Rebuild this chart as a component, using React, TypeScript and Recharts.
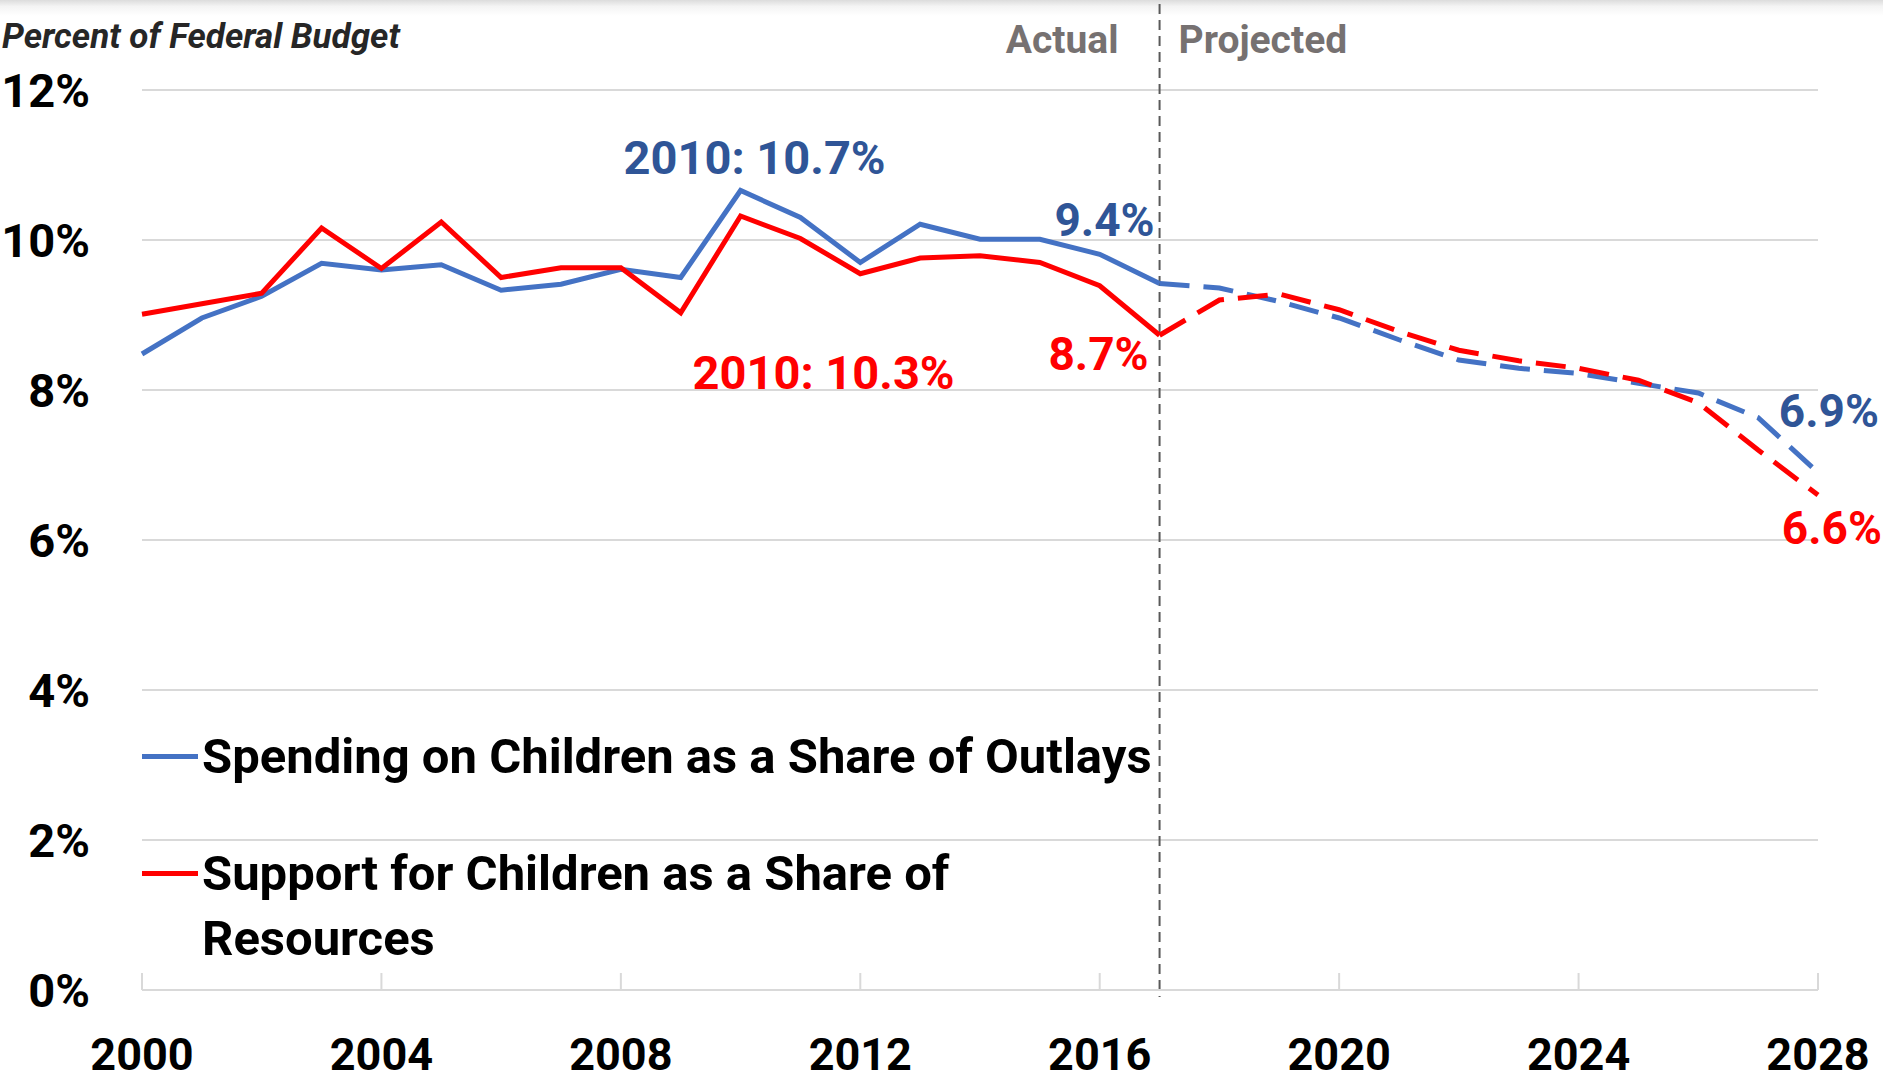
import React from "react";
import {
  LineChart,
  Line,
  XAxis,
  YAxis,
  CartesianGrid,
  ReferenceLine,
  Legend,
} from "recharts";

const years = [
  2000, 2001, 2002, 2003, 2004, 2005, 2006, 2007, 2008, 2009, 2010, 2011, 2012, 2013, 2014,
  2015, 2016, 2017, 2018, 2019, 2020, 2021, 2022, 2023, 2024, 2025, 2026, 2027, 2028,
];
const xTicks = [2000, 2004, 2008, 2012, 2016, 2020, 2024, 2028];
const yTicks = [0, 2, 4, 6, 8, 10, 12];
const splitYear = 2017;

// 2000-2017
const outlaysActual = [
  8.48, 8.96, 9.25, 9.69, 9.6, 9.67, 9.33, 9.41, 9.61, 9.5, 10.66, 10.3, 9.7, 10.21, 10.01,
  10.01, 9.81, 9.42,
];
const resourcesActual = [
  9.01, 9.15, 9.29, 10.16, 9.62, 10.24, 9.5, 9.63, 9.63, 9.03, 10.32, 10.02, 9.55, 9.76, 9.79,
  9.7, 9.39, 8.73,
];
// 2017-2028
const outlaysProjected = [9.42, 9.36, 9.18, 8.96, 8.67, 8.4, 8.29, 8.22, 8.09, 7.96, 7.63, 6.9];
const resourcesProjected = [8.73, 9.2, 9.28, 9.07, 8.78, 8.53, 8.39, 8.29, 8.13, 7.83, 7.2, 6.6];

const outlaysName = "Spending on Children as a Share of Outlays";
const resourcesName = "Support for Children as a Share of Resources";

const BLUE = "#4472C4";
const BLUE_TEXT = "#2F5597";
const RED = "#FF0000";
const GRID = "#D9D9D9";
const FONT = "Roboto, 'Liberation Sans', Arial, sans-serif";

const splitIndex = years.indexOf(splitYear);
const chartData = years.map((year, i) => ({
  year,
  outlaysActual: i <= splitIndex ? outlaysActual[i] : null,
  outlaysProjected: i >= splitIndex ? outlaysProjected[i - splitIndex] : null,
  resourcesActual: i <= splitIndex ? resourcesActual[i] : null,
  resourcesProjected: i >= splitIndex ? resourcesProjected[i - splitIndex] : null,
}));

type Callout = { dx: number; dy: number; anchor: "start" | "middle" | "end"; withYear?: boolean };

// label offsets from the data point they describe
const outlaysCallouts: Record<number, Callout> = {
  2010: { dx: 14, dy: -33, anchor: "middle", withYear: true },
  2017: { dx: -5, dy: -64, anchor: "end" },
};
const outlaysEndCallouts: Record<number, Callout> = {
  2028: { dx: 61, dy: -62, anchor: "end" },
};
const resourcesCallouts: Record<number, Callout> = {
  2010: { dx: 83, dy: 156, anchor: "middle", withYear: true },
  2017: { dx: -11, dy: 19, anchor: "end" },
};
const resourcesEndCallouts: Record<number, Callout> = {
  2028: { dx: 64, dy: 33, anchor: "end" },
};

function calloutDot(callouts: Record<number, Callout>, dataKey: string, color: string) {
  return (props: any) => {
    const { cx, cy, payload, index } = props;
    const c = payload ? callouts[payload.year] : undefined;
    const v = payload ? payload[dataKey] : null;
    if (!c || cx == null || cy == null || v == null) return <g key={`d-${dataKey}-${index}`} />;
    const text = c.withYear ? `${payload.year}: ${v.toFixed(1)}%` : `${v.toFixed(1)}%`;
    return (
      <text
        key={`d-${dataKey}-${index}`}
        x={cx + c.dx}
        y={cy + c.dy}
        textAnchor={c.anchor}
        dominantBaseline="central"
        fill={color}
        fontFamily={FONT}
        fontWeight={700}
        fontSize={c.withYear ? 47 : 46}
      >
        {text}
      </text>
    );
  };
}

const XTick = (props: any) => {
  const { x, y, payload } = props;
  return (
    <g>
      <line x1={x} x2={x} y1={y - 17} y2={y} stroke={GRID} strokeWidth={2} />
      <text
        x={x}
        y={y + 80}
        textAnchor="middle"
        fill="#000"
        fontFamily={FONT}
        fontWeight={700}
        fontSize={45}
      >
        {payload.value}
      </text>
    </g>
  );
};

const YTick = (props: any) => {
  const { x, y, payload } = props;
  return (
    <text
      x={x - 52}
      y={y}
      textAnchor="end"
      dominantBaseline="central"
      fill="#000"
      fontFamily={FONT}
      fontWeight={700}
      fontSize={47}
    >
      {payload.value}%
    </text>
  );
};

const Divider = (props: any) => {
  const { x1, x2, y1, y2 } = props;
  const top = Math.min(y1, y2);
  const bottom = Math.max(y1, y2);
  return (
    <g>
      <line
        x1={x1}
        x2={x2}
        y1={top - 86}
        y2={bottom + 7}
        stroke="#595959"
        strokeWidth={2}
        strokeDasharray="10 6"
      />
      <text
        x={x1 - 41}
        y={top - 50}
        textAnchor="end"
        dominantBaseline="central"
        fill="#767171"
        fontFamily={FONT}
        fontWeight={700}
        fontSize={39}
      >
        Actual
      </text>
      <text
        x={x1 + 19}
        y={top - 50}
        textAnchor="start"
        dominantBaseline="central"
        fill="#767171"
        fontFamily={FONT}
        fontWeight={700}
        fontSize={39}
      >
        Projected
      </text>
    </g>
  );
};

function wrapLabel(text: string, maxChars: number) {
  const lines: string[] = [];
  let cur = "";
  text.split(" ").forEach((w) => {
    const next = cur ? cur + " " + w : w;
    if (next.length > maxChars && cur) {
      lines.push(cur);
      cur = w;
    } else {
      cur = next;
    }
  });
  if (cur) lines.push(cur);
  return lines;
}

const LegendBox = (props: any) => {
  const items = (props.payload || []).filter(
    (p: any) => p.dataKey === "outlaysActual" || p.dataKey === "resourcesActual"
  );
  return (
    <div
      style={{
        fontFamily: FONT,
        fontWeight: 700,
        fontSize: 49,
        lineHeight: "65px",
        color: "#000",
        textAlign: "left",
      }}
    >
      {items.map((item: any, i: number) => (
        <div key={i} style={{ display: "flex", alignItems: "flex-start", marginBottom: 52 }}>
          <div
            style={{
              width: 56,
              height: 5,
              background: item.color,
              marginTop: 30,
              marginRight: 4,
              flex: "none",
            }}
          />
          <div>
            {wrapLabel(String(item.value), 42).map((line, j) => (
              <div key={j} style={{ whiteSpace: "nowrap" }}>
                {line}
              </div>
            ))}
          </div>
        </div>
      ))}
    </div>
  );
};

export default function App() {
  return (
    <div
      style={{
        position: "absolute",
        left: 0,
        top: 0,
        width: 1883,
        height: 1081,
        background: "#fff",
        overflow: "hidden",
      }}
    >
      <div
        style={{
          position: "absolute",
          left: 0,
          top: 0,
          width: 1883,
          height: 16,
          background: "linear-gradient(#dcdcdc, #f4f4f4 40%, #ffffff)",
        }}
      />
      <div
        style={{
          position: "absolute",
          left: 2,
          top: 17,
          height: 40,
          lineHeight: "40px",
          fontFamily: FONT,
          fontWeight: 700,
          fontStyle: "italic",
          fontSize: 35,
          color: "#262626",
          whiteSpace: "nowrap",
        }}
      >
        Percent of Federal Budget
      </div>
      <LineChart
        width={1883}
        height={1081}
        data={chartData}
        margin={{ top: 90, right: 65, bottom: 0, left: 0 }}
      >
        <CartesianGrid vertical={false} stroke={GRID} strokeWidth={2} />
        <XAxis
          dataKey="year"
          type="number"
          domain={[2000, 2028]}
          ticks={xTicks}
          height={91}
          axisLine={{ stroke: GRID, strokeWidth: 2 }}
          tickLine={false}
          tickSize={0}
          tickMargin={0}
          tick={<XTick />}
          interval={0}
        />
        <YAxis
          type="number"
          domain={[0, 12]}
          ticks={yTicks}
          width={142}
          axisLine={false}
          tickLine={false}
          tickSize={0}
          tickMargin={0}
          tick={<YTick />}
          interval={0}
        />
        <ReferenceLine x={splitYear} shape={(p: any) => <Divider {...p} />} />
        <Legend
          layout="vertical"
          align="center"
          verticalAlign="middle"
          content={<LegendBox />}
          wrapperStyle={{ left: 142, top: 724, width: 1100 }}
        />
        <Line
          dataKey="outlaysActual"
          name={outlaysName}
          stroke={BLUE}
          strokeWidth={5}
          dot={calloutDot(outlaysCallouts, "outlaysActual", BLUE_TEXT)}
          activeDot={false}
          isAnimationActive={false}
        />
        <Line
          dataKey="resourcesActual"
          name={resourcesName}
          stroke={RED}
          strokeWidth={5}
          dot={calloutDot(resourcesCallouts, "resourcesActual", RED)}
          activeDot={false}
          isAnimationActive={false}
        />
        <Line
          dataKey="outlaysProjected"
          name={outlaysName + " (projected)"}
          stroke={BLUE}
          strokeWidth={5}
          strokeDasharray="30 14"
          legendType="none"
          dot={calloutDot(outlaysEndCallouts, "outlaysProjected", BLUE_TEXT)}
          activeDot={false}
          isAnimationActive={false}
        />
        <Line
          dataKey="resourcesProjected"
          name={resourcesName + " (projected)"}
          stroke={RED}
          strokeWidth={5}
          strokeDasharray="30 14"
          legendType="none"
          dot={calloutDot(resourcesEndCallouts, "resourcesProjected", RED)}
          activeDot={false}
          isAnimationActive={false}
        />
      </LineChart>
    </div>
  );
}
